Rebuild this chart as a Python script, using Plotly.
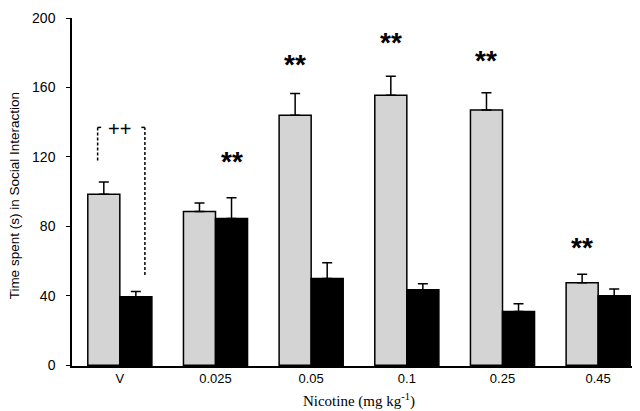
import plotly.graph_objects as go

categories = ["V", "0.025", "0.05", "0.1", "0.25", "0.45"]
control_vals = [98.5, 88.5, 144, 155.5, 147, 47.5]
control_err = [7, 5, 12.5, 11, 10, 5]
nicotine_vals = [39.5, 84.5, 50, 43.5, 31, 40]
nicotine_err = [3, 12, 9, 3.5, 4.5, 4]
star_labels = ["", "**", "**", "**", "**", "**"]
star_series = [None, 1, 0, 0, 0, 0]   # 0 = gray bar, 1 = black bar
star_y = [None, 112.5, 168.5, 181, 170.5, 63]
y_ticks = [0, 40, 80, 120, 160, 200]
y_title = "Time spent (s) in Social Interaction"

x_idx = list(range(len(categories)))
off = 0.1675

fig = go.Figure()
fig.add_trace(go.Bar(
    x=x_idx, y=control_vals, name="Vehicle",
    marker=dict(color="#d4d4d4", line=dict(color="black", width=1.5)),
    error_y=dict(type="data", array=control_err, arrayminus=[0]*6, symmetric=False,
                 color="black", thickness=1.5, width=5),
))
fig.add_trace(go.Bar(
    x=x_idx, y=nicotine_vals, name="Nicotine",
    marker=dict(color="black", line=dict(color="black", width=1.5)),
    error_y=dict(type="data", array=nicotine_err, arrayminus=[0]*6, symmetric=False,
                 color="black", thickness=1.5, width=5),
))

annotations = []
for i, (lab, s, sy) in enumerate(zip(star_labels, star_series, star_y)):
    if not lab:
        continue
    xc = i - off if s == 0 else i + off
    annotations.append(dict(x=xc, y=sy, text="<b>" + lab + "</b>", showarrow=False,
                            xref="x", yref="y", yanchor="bottom", yshift=-9,
                            font=dict(family="Liberation Sans, Arial", size=28, color="black")))

annotations.append(dict(x=0.0, y=136, text="++", showarrow=False, xref="x", yref="y",
                        yanchor="middle",
                        font=dict(family="Liberation Sans, Arial", size=20, color="black")))

# y-axis title placed as rotated text left of the tick labels
annotations.append(dict(x=-0.0995, y=0.49, xref="paper", yref="paper", text=y_title,
                        textangle=-90, showarrow=False, xanchor="center", yanchor="middle",
                        font=dict(family="Liberation Sans, Arial", size=13.5, color="black")))

shapes = [
    dict(type="line", xref="x", yref="y", x0=-0.232, x1=-0.232, y0=118, y1=137,
         line=dict(color="black", width=1.5, dash="3px,2px")),
    dict(type="line", xref="x", yref="y", x0=-0.232, x1=-0.195, y0=137, y1=137,
         line=dict(color="black", width=1.5)),
    dict(type="line", xref="x", yref="y", x0=0.262, x1=0.262, y0=52, y1=137,
         line=dict(color="black", width=1.5, dash="3px,2px")),
    dict(type="line", xref="x", yref="y", x0=0.225, x1=0.262, y0=137, y1=137,
         line=dict(color="black", width=1.5)),
]

fig.update_layout(
    width=640, height=411,
    margin=dict(l=64, r=2, t=7, b=53),
    paper_bgcolor="white", plot_bgcolor="white",
    barmode="group", bargap=0.33, bargroupgap=0,
    showlegend=False,
    annotations=annotations, shapes=shapes,
    xaxis=dict(range=[-0.5, 5.5], tickvals=x_idx, ticktext=categories,
               showline=True, linecolor="black", linewidth=1.5, ticks="",
               showgrid=False, zeroline=False,
               tickfont=dict(family="Liberation Sans, Arial", size=13, color="black"),
               title=dict(text="Nicotine (mg kg<sup>-1</sup>)", standoff=10,
                          font=dict(family="Liberation Serif, Times New Roman", size=15, color="black"))),
    yaxis=dict(range=[-0.4, 200], tickmode="array", tickvals=y_ticks,
               ticktext=[str(v) for v in y_ticks], ticklabeloverflow="allow",
               ticklabelstandoff=8,
               showline=True, linecolor="black", linewidth=1.5, ticks="outside", ticklen=4,
               tickcolor="black", showgrid=False, zeroline=False,
               tickfont=dict(family="Liberation Sans, Arial", size=14, color="black")),
)

fig.write_html("out.html")
